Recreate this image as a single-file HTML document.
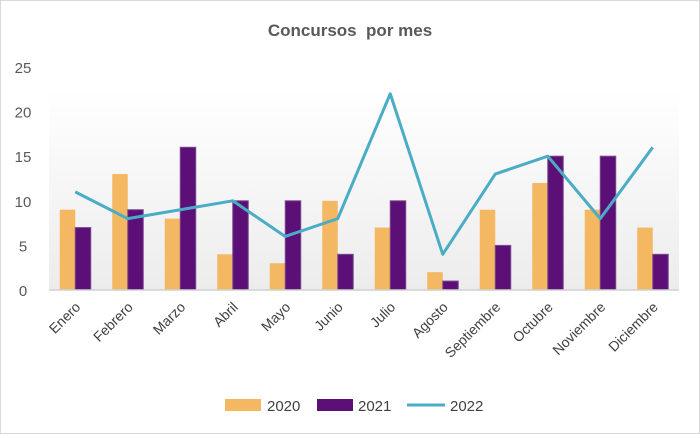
<!DOCTYPE html>
<html><head><meta charset="utf-8"><style>
body{margin:0;background:#fff}
#c{position:relative;width:698px;height:432px;border:1px solid #d9d9d9;background:#fff;font-family:"Liberation Sans",sans-serif}
</style></head><body>
<div id="c">
<svg id="s" width="698" height="432" xmlns="http://www.w3.org/2000/svg">
<defs><linearGradient id="g" x1="0" y1="0" x2="0" y2="1"><stop offset="0" stop-color="#ffffff"/><stop offset="1" stop-color="#ececec"/></linearGradient></defs>
<text x="349" y="35" text-anchor="middle" font-size="17" font-weight="bold" fill="#595959">Concursos&#160; por mes</text>
<rect x="48" y="88" width="630" height="201" fill="url(#g)"/>
<g id="plot"></g>
</svg>
</div>
<script>
const categories=["Enero","Febrero","Marzo","Abril","Mayo","Junio","Julio","Agosto","Septiembre","Octubre","Noviembre","Diciembre"];
const s2020=[9,13,8,4,3,10,7,2,9,12,9,7];
const s2021=[7,9,16,10,10,4,10,1,5,15,15,4];
const s2022=[11,8,9,10,6,8,22,4,13,15,8,16];
const yTicks=[0,5,10,15,20,25];
const NS="http://www.w3.org/2000/svg";
const g=document.getElementById('plot');
const x0=48,step=52.5,y0=289,ppu=(289-66)/25;
const xc=i=>x0+step*(i+0.5);
const y=v=>y0-v*ppu;
function mk(t,a){const e=document.createElementNS(NS,t);for(const k in a)e.setAttribute(k,a[k]);g.appendChild(e);return e;}
yTicks.forEach(v=>{const t=mk('text',{x:22,y:y(v)+6,'text-anchor':'middle','font-size':15,fill:'#595959'});t.textContent=v;

});
const bw=15.5;
categories.forEach((c,i)=>{
 const a=mk('rect',{x:xc(i)-bw,y:y(s2020[i]),width:bw,height:s2020[i]*ppu,fill:'#f4b862'});
 
 
 const b=mk('rect',{x:xc(i),y:y(s2021[i]),width:bw,height:s2021[i]*ppu,fill:'#5c1077',stroke:'#7a4b8c','stroke-width':1});
 
 
 const t=mk('text',{'text-anchor':'end','font-size':14,fill:'#404040',transform:`translate(${xc(i)+6},${y0+18}) rotate(-45)`});
 t.textContent=c;
 
 
});
const ax=mk('line',{x1:x0,x2:x0+step*12,y1:y0,y2:y0,stroke:'#d0d0d0','stroke-width':1.5});


const ln=mk('polyline',{points:s2022.map((v,i)=>xc(i)+','+y(v)).join(' '),fill:'none',stroke:'#4bacc6','stroke-width':3,'stroke-linejoin':'round'});


// legend
const l1=mk('rect',{x:224,y:398,width:36,height:12,fill:'#f4b862'});


const t1=mk('text',{x:266,y:410,'font-size':15,fill:'#404040'});t1.textContent='2020';


const l2=mk('rect',{x:316,y:398,width:36,height:12,fill:'#5c1077'});


const t2=mk('text',{x:357,y:410,'font-size':15,fill:'#404040'});t2.textContent='2021';


const l3=mk('line',{x1:406,x2:444,y1:404,y2:404,stroke:'#4bacc6','stroke-width':3});


const t3=mk('text',{x:449,y:410,'font-size':15,fill:'#404040'});t3.textContent='2022';


</script>
</body></html>
